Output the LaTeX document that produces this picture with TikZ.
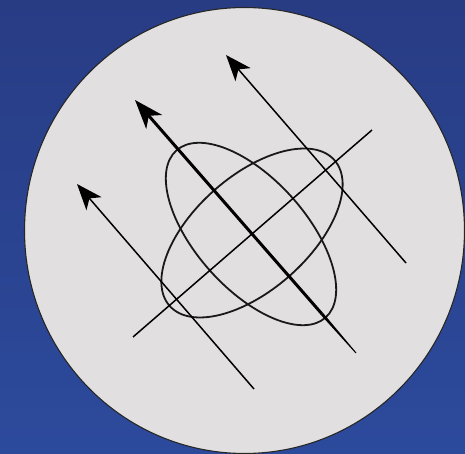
\documentclass[tikz,border=0pt]{standalone}
\usetikzlibrary{arrows.meta}
\definecolor{bgtop}{HTML}{283C84}
\definecolor{bgbot}{HTML}{2C4A9C}
\definecolor{disc}{HTML}{E2DFE0}
\begin{document}
\begin{tikzpicture}[x=1pt,y=1pt,
  thinline/.style={line width=1.5pt,draw=black},
  ellipseline/.style={line width=1.8pt,draw=black!90},
  arrowtip/.style={-{Stealth[length=26pt,width=20pt,inset=7pt]}},
  bigtip/.style={-{Stealth[length=29pt,width=21pt,inset=8pt]}}]
\useasboundingbox (0,0) rectangle (465,454);
\shade[top color=bgtop,bottom color=bgbot] (0,0) rectangle (465,454);
% disc
\filldraw[fill=disc,draw=black!85,line width=1.1pt] (244.5,223.5) ellipse [x radius=220,y radius=223];
% coordinates
\coordinate (ltip) at (77,270);
\coordinate (ltail) at (254,65);
\coordinate (mtip) at (135,354);
\coordinate (mmid) at (322,140);
\coordinate (mend) at (356,101);
\coordinate (rtip) at (226,399);
\coordinate (rtail) at (406,191);
\coordinate (dA) at (133,117);
\coordinate (dB) at (372,324);
\coordinate (cA) at (251,220);
\coordinate (cB) at (252,221);
% ellipses
\draw[ellipseline,rotate around={-48.2:(cA)}] (cA) ellipse [x radius=112,y radius=55];
\draw[ellipseline,rotate around={41.5:(cB)}] (cB) ellipse [x radius=110,y radius=57];
% diagonal line
\draw[thinline] (dA) -- (dB);
% side arrows
\draw[thinline,arrowtip] (ltail) -- (ltip);
\draw[thinline,arrowtip] (rtail) -- (rtip);
% middle thick arrow with tapering tail
\draw[line width=3pt,bigtip] (mmid) -- (mtip);
\fill[black] (323.1,141.0) -- (356.4,101.3) -- (355.6,100.7) -- (320.9,139.0) -- cycle;
\end{tikzpicture}
\end{document}
